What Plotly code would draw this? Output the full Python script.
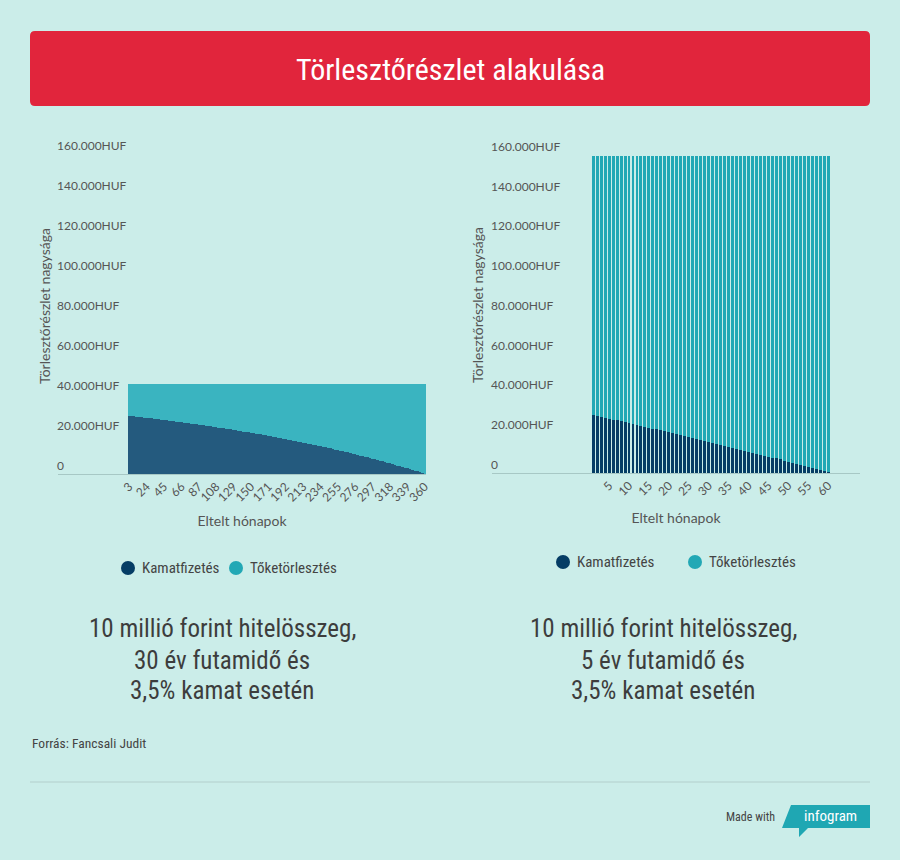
import plotly.graph_objects as go

# ---------------- data ----------------
months_30y = list(range(3, 361, 3))          # category labels (every 3rd month)
kamat_30y = [
    29100, 28900, 28800, 28700, 28500, 28400, 28200, 28100, 27900, 27800,
    27600, 27500, 27300, 27200, 27000, 26900, 26700, 26500, 26400, 26200,
    26100, 25900, 25700, 25600, 25400, 25200, 25000, 24900, 24700, 24500,
    24300, 24200, 24000, 23800, 23600, 23400, 23200, 23000, 22800, 22600,
    22500, 22300, 22100, 21900, 21700, 21500, 21200, 21000, 20800, 20600,
    20400, 20200, 20000, 19800, 19500, 19300, 19100, 18900, 18600, 18400,
    18200, 17900, 17700, 17500, 17200, 17000, 16700, 16500, 16200, 16000,
    15700, 15500, 15200, 15000, 14700, 14400, 14200, 13900, 13600, 13300,
    13100, 12800, 12500, 12200, 11900, 11600, 11300, 11100, 10800, 10500,
    10200, 9800, 9500, 9200, 8900, 8600, 8300, 8000, 7600, 7300,
    7000, 6600, 6300, 6000, 5600, 5300, 4900, 4600, 4200, 3900,
    3500, 3200, 2800, 2400, 2000, 1700, 1300, 900, 500, 100,
]
toke_30y = [
    15800, 16000, 16100, 16200, 16400, 16500, 16700, 16800, 17000, 17100,
    17300, 17400, 17600, 17700, 17900, 18000, 18200, 18400, 18500, 18700,
    18800, 19000, 19200, 19300, 19500, 19700, 19900, 20000, 20200, 20400,
    20600, 20700, 20900, 21100, 21300, 21500, 21700, 21900, 22100, 22300,
    22400, 22600, 22800, 23000, 23200, 23400, 23700, 23900, 24100, 24300,
    24500, 24700, 24900, 25100, 25400, 25600, 25800, 26000, 26300, 26500,
    26700, 27000, 27200, 27400, 27700, 27900, 28200, 28400, 28700, 28900,
    29200, 29400, 29700, 29900, 30200, 30500, 30700, 31000, 31300, 31600,
    31800, 32100, 32400, 32700, 33000, 33300, 33600, 33800, 34100, 34400,
    34700, 35100, 35400, 35700, 36000, 36300, 36600, 36900, 37300, 37600,
    37900, 38300, 38600, 38900, 39300, 39600, 40000, 40300, 40700, 41000,
    41400, 41700, 42100, 42500, 42900, 43200, 43600, 44000, 44400, 44800,
]

months_5y = list(range(1, 61))
kamat_5y = [
    29200, 28700, 28300, 27800, 27400, 26900, 26500, 26000, 25600, 25100,
    24700, 24200, 23700, 23300, 22800, 22300, 21900, 21400, 20900, 20500,
    20000, 19500, 19100, 18600, 18100, 17600, 17200, 16700, 16200, 15700,
    15200, 14700, 14200, 13800, 13300, 12800, 12300, 11800, 11300, 10800,
    10300, 9800, 9300, 8800, 8300, 7800, 7300, 6800, 6200, 5700,
    5200, 4700, 4200, 3700, 3200, 2600, 2100, 1600, 1100, 500,
]
toke_5y = [
    130500, 131000, 131400, 131900, 132300, 132800, 133200, 133700, 134100, 134600,
    135000, 135500, 136000, 136400, 136900, 137400, 137800, 138300, 138800, 139200,
    139700, 140200, 140600, 141100, 141600, 142100, 142500, 143000, 143500, 144000,
    144500, 145000, 145500, 145900, 146400, 146900, 147400, 147900, 148400, 148900,
    149400, 149900, 150400, 150900, 151400, 151900, 152400, 152900, 153500, 154000,
    154500, 155000, 155500, 156000, 156500, 157100, 157600, 158100, 158600, 159200,
]

y_tickvals = [0, 20000, 40000, 60000, 80000, 100000, 120000, 140000, 160000]
y_ticktext = ["0", "20.000HUF", "40.000HUF", "60.000HUF", "80.000HUF",
              "100.000HUF", "120.000HUF", "140.000HUF", "160.000HUF"]
x_ticks_30y = [3, 24, 45, 66, 87, 108, 129, 150, 171, 192, 213, 234, 255, 276, 297, 318, 339, 360]
x_ticks_5y = [5, 10, 15, 20, 25, 30, 35, 40, 45, 50, 55, 60]

series_names = ["Kamatfizetés", "Tőketörlesztés"]
title_text = "Törlesztőrészlet alakulása"
y_title = "Törlesztőrészlet nagysága"
x_title = "Eltelt hónapok"
caption_30y = ["10 millió forint hitelösszeg,", "30 év futamidő és", "3,5% kamat esetén"]
caption_5y = ["10 millió forint hitelösszeg,", "5 év futamidő és", "3,5% kamat esetén"]

# ---------------- style ----------------
W, H = 900, 860
BG = "#cbede9"
RED = "#e1253c"
DARK_L, TEAL_L = "#245a7e", "#3ab4c0"
DARK_R, TEAL_R = "#053d65", "#22a8b5"
TXT = "#444444"
AX = "#a7c8c5"
NARROW = "Liberation Sans Narrow, Roboto Condensed, Arial Narrow, sans-serif"
BODY = "Lato, Open Sans, sans-serif"


def px_x(p):
    return p / W


def px_y(p):
    return 1 - p / H


fig = go.Figure()

idx30 = list(range(len(months_30y)))
fig.add_trace(go.Bar(x=idx30, y=kamat_30y, name=series_names[0], marker_color=DARK_L,
                     marker_line_width=0, xaxis="x", yaxis="y", showlegend=False,
                     customdata=months_30y, width=1.0))
fig.add_trace(go.Bar(x=idx30, y=toke_30y, name=series_names[1], marker_color=TEAL_L,
                     marker_line_width=0, xaxis="x", yaxis="y", showlegend=False,
                     customdata=months_30y, width=1.0))

idx5 = list(range(len(months_5y)))
fig.add_trace(go.Bar(x=idx5, y=kamat_5y, name=series_names[0], marker_color=DARK_R,
                     marker_line_width=0, xaxis="x2", yaxis="y2", showlegend=False,
                     customdata=months_5y, width=0.74))
fig.add_trace(go.Bar(x=idx5, y=toke_5y, name=series_names[1], marker_color=TEAL_R,
                     marker_line_width=0, xaxis="x2", yaxis="y2", showlegend=False,
                     customdata=months_5y, width=0.74))

tick_font = dict(family=BODY, size=12, color="#555555")
axis_title_font = dict(family=BODY, size=14, color="#555555")

common_y = dict(range=[0, 160000], tickvals=y_tickvals, ticktext=y_ticktext,
                ticklabelposition="inside top", ticklabeloverflow="allow",
                ticklabelstandoff=-4, automargin=False,
                showgrid=False, zeroline=False, showline=False, ticks="", tickfont=tick_font)
common_x = dict(showgrid=False, zeroline=False, showline=True, linecolor=AX, linewidth=1,
                ticks="", tickangle=-45, tickfont=tick_font, ticklabeloverflow="allow",
                automargin=False)

x30_pos = [months_30y.index(m) for m in x_ticks_30y]
x5_pos = [months_5y.index(m) for m in x_ticks_5y]

fig.update_layout(
    width=W, height=H, autosize=False,
    margin=dict(l=0, r=0, t=0, b=0, autoexpand=False),
    paper_bgcolor=BG, plot_bgcolor="rgba(0,0,0,0)",
    barmode="stack",
    showlegend=False,
    xaxis=dict(domain=[px_x(58), px_x(426)], range=[-28.7, 119.5], anchor="y",
               tickvals=x30_pos, ticktext=[str(m) for m in x_ticks_30y],
               title=dict(text=x_title, font=axis_title_font, standoff=12), **common_x),
    yaxis=dict(domain=[px_y(474), px_y(154)], anchor="x", **common_y),
    xaxis2=dict(domain=[px_x(492), px_x(860)], range=[-25.4, 67], anchor="y2",
                tickvals=x5_pos, ticktext=[str(m) for m in x_ticks_5y],
                title=dict(text=x_title, font=axis_title_font, standoff=15), **common_x),
    yaxis2=dict(domain=[px_y(473), px_y(155)], anchor="x2", **common_y),
)

shapes = []
annotations = []

# vertical axis titles (placed as in the original, slightly above domain centre)
for ax_x, ax_y in ((44, 306), (478, 305)):
    annotations.append(dict(x=px_x(ax_x), y=px_y(ax_y), xref="paper", yref="paper",
                            text=y_title, textangle=-90, showarrow=False,
                            xanchor="center", yanchor="middle", font=axis_title_font))

x0, x1, y0, y1 = px_x(30), px_x(870), px_y(106), px_y(31)
rx, ry = 5 / W, 5 / H
path = (f"M {x0+rx},{y1} L {x1-rx},{y1} Q {x1},{y1} {x1},{y1-ry} "
        f"L {x1},{y0+ry} Q {x1},{y0} {x1-rx},{y0} L {x0+rx},{y0} "
        f"Q {x0},{y0} {x0},{y0+ry} L {x0},{y1-ry} Q {x0},{y1} {x0+rx},{y1} Z")
shapes.append(dict(type="path", xref="paper", yref="paper", path=path,
                   fillcolor=RED, line_width=0, layer="below"))
annotations.append(dict(x=0.5, y=px_y(69), xref="paper", yref="paper", text=title_text,
                        showarrow=False, xanchor="center", yanchor="middle",
                        font=dict(family=NARROW, size=30, color="white")))


def legend(items, y):
    for (cx, color, label) in items:
        r = 7
        shapes.append(dict(type="circle", xref="paper", yref="paper",
                           x0=px_x(cx - r), x1=px_x(cx + r), y0=px_y(y + r), y1=px_y(y - r),
                           fillcolor=color, line_width=0))
        annotations.append(dict(x=px_x(cx + 12), y=px_y(y), xref="paper", yref="paper",
                                text=label, showarrow=False, xanchor="left", yanchor="middle",
                                font=dict(family=NARROW, size=15, color=TXT)))


legend([(128, DARK_R, series_names[0]), (236, TEAL_R, series_names[1])], 568)
legend([(563, DARK_R, series_names[0]), (695, TEAL_R, series_names[1])], 562)

for cx, lines in ((222, caption_30y), (663, caption_5y)):
    for ly, line in zip((628, 660, 690), lines):
        annotations.append(dict(x=px_x(cx), y=px_y(ly), xref="paper", yref="paper",
                                text=line, showarrow=False, xanchor="center", yanchor="middle",
                                font=dict(family=NARROW, size=25, color="#3d3d3d")))

annotations.append(dict(x=px_x(30), y=px_y(743), xref="paper", yref="paper",
                        text="Forrás: Fancsali Judit", showarrow=False,
                        xanchor="left", yanchor="middle",
                        font=dict(family=NARROW, size=13.5, color=TXT)))
shapes.append(dict(type="line", xref="paper", yref="paper", x0=px_x(30), x1=px_x(870),
                   y0=px_y(782), y1=px_y(782), line=dict(color="#b3cfcc", width=1)))
annotations.append(dict(x=px_x(777), y=px_y(817), xref="paper", yref="paper",
                        text="Made with", showarrow=False, xanchor="right", yanchor="middle",
                        font=dict(family=NARROW, size=12, color=TXT)))
badge = (f"M {px_x(791)},{px_y(805)} L {px_x(870)},{px_y(805)} L {px_x(870)},{px_y(828)} "
         f"L {px_x(808)},{px_y(828)} L {px_x(799)},{px_y(837)} L {px_x(799)},{px_y(828)} "
         f"L {px_x(782)},{px_y(828)} Z")
shapes.append(dict(type="path", xref="paper", yref="paper", path=badge,
                   fillcolor="#1fa7b3", line_width=0))
annotations.append(dict(x=px_x(830), y=px_y(816), xref="paper", yref="paper",
                        text="infogram", showarrow=False, xanchor="center", yanchor="middle",
                        font=dict(family=NARROW, size=15, color="white")))

fig.update_layout(shapes=shapes, annotations=annotations)

fig.write_html("out.html",
               config={"responsive": False, "displayModeBar": False},
               post_script="document.body.style.margin='0';")
